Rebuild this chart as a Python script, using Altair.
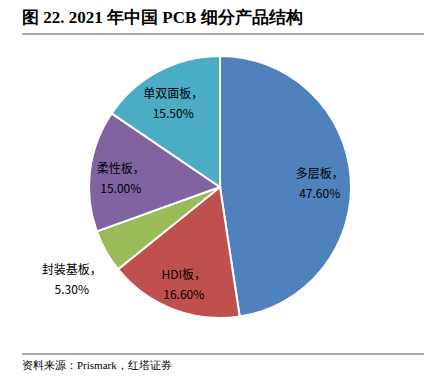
import altair as alt
import pandas as pd

names = ["多层板", "HDI板", "封装基板", "柔性板", "单双面板"]
values = [47.60, 16.60, 5.30, 15.00, 15.50]
colors = ["#4F81BD", "#C0504D", "#9BBB59", "#8064A2", "#4BACC6"]
title_text = "图 22. 2021 年中国 PCB 细分产品结构"
source_text = "资料来源：Prismark，红塔证券"

df = pd.DataFrame({"name": names, "value": values, "idx": list(range(len(names)))})
total = float(sum(values))

CX, CY, R = 212, 179, 131

pie = alt.Chart(df).mark_arc(outerRadius=R, stroke="white", strokeWidth=2).encode(
    theta=alt.Theta("value:Q", stack=True, scale=alt.Scale(domain=[0, total])),
    order=alt.Order("idx:Q"),
    color=alt.Color("name:N", scale=alt.Scale(domain=names, range=colors), legend=None),
    x=alt.value(CX),
    y=alt.value(CY),
)

lbl = alt.Chart(df).transform_window(
    cum="sum(value)", sort=[alt.SortField("idx")]
).transform_calculate(
    mid="datum.cum - datum.value / 2",
    lab="[datum.name + '，', format(datum.value, '.2f') + '%']",
).encode(
    theta=alt.Theta("mid:Q", scale=alt.Scale(domain=[0, total])),
    x=alt.value(CX),
    y=alt.value(CY),
    text="lab:N",
)

tstyle = dict(font="Noto Sans CJK SC", fontSize=12, color="#000000", align="center",
              baseline="middle", lineHeight=20)
inner = lbl.transform_filter("datum.name != '封装基板'").mark_text(dy=-5, **tstyle).encode(
    radius=alt.value(100))
outer = lbl.transform_filter("datum.name == '封装基板'").mark_text(**tstyle).encode(
    radius=alt.value(170))

deco = pd.DataFrame({"t": [title_text]})
title = alt.Chart(deco).mark_text(
    font="Liberation Serif", fontSize=17, fontWeight="bold", align="left",
    baseline="middle", color="#000000"
).encode(text="t:N", x=alt.value(14), y=alt.value(10))

src = alt.Chart(pd.DataFrame({"t": [source_text]})).mark_text(
    font="Liberation Serif", fontSize=11, align="left", baseline="middle", color="#000000"
).encode(text="t:N", x=alt.value(14), y=alt.value(358))

line1 = alt.Chart(deco).mark_rule(color="#555555", strokeWidth=1).encode(
    x=alt.value(14), x2=alt.value(416), y=alt.value(26))
line2 = alt.Chart(deco).mark_rule(color="#555555", strokeWidth=1).encode(
    x=alt.value(14), x2=alt.value(416), y=alt.value(346))

chart = alt.layer(pie, inner, outer, title, src, line1, line2).properties(
    width=420, height=373, autosize=alt.AutoSizeParams(type="none"), padding=0
).configure_view(stroke=None)

chart.save("out.html", embed_options={"renderer": "svg", "actions": False})
